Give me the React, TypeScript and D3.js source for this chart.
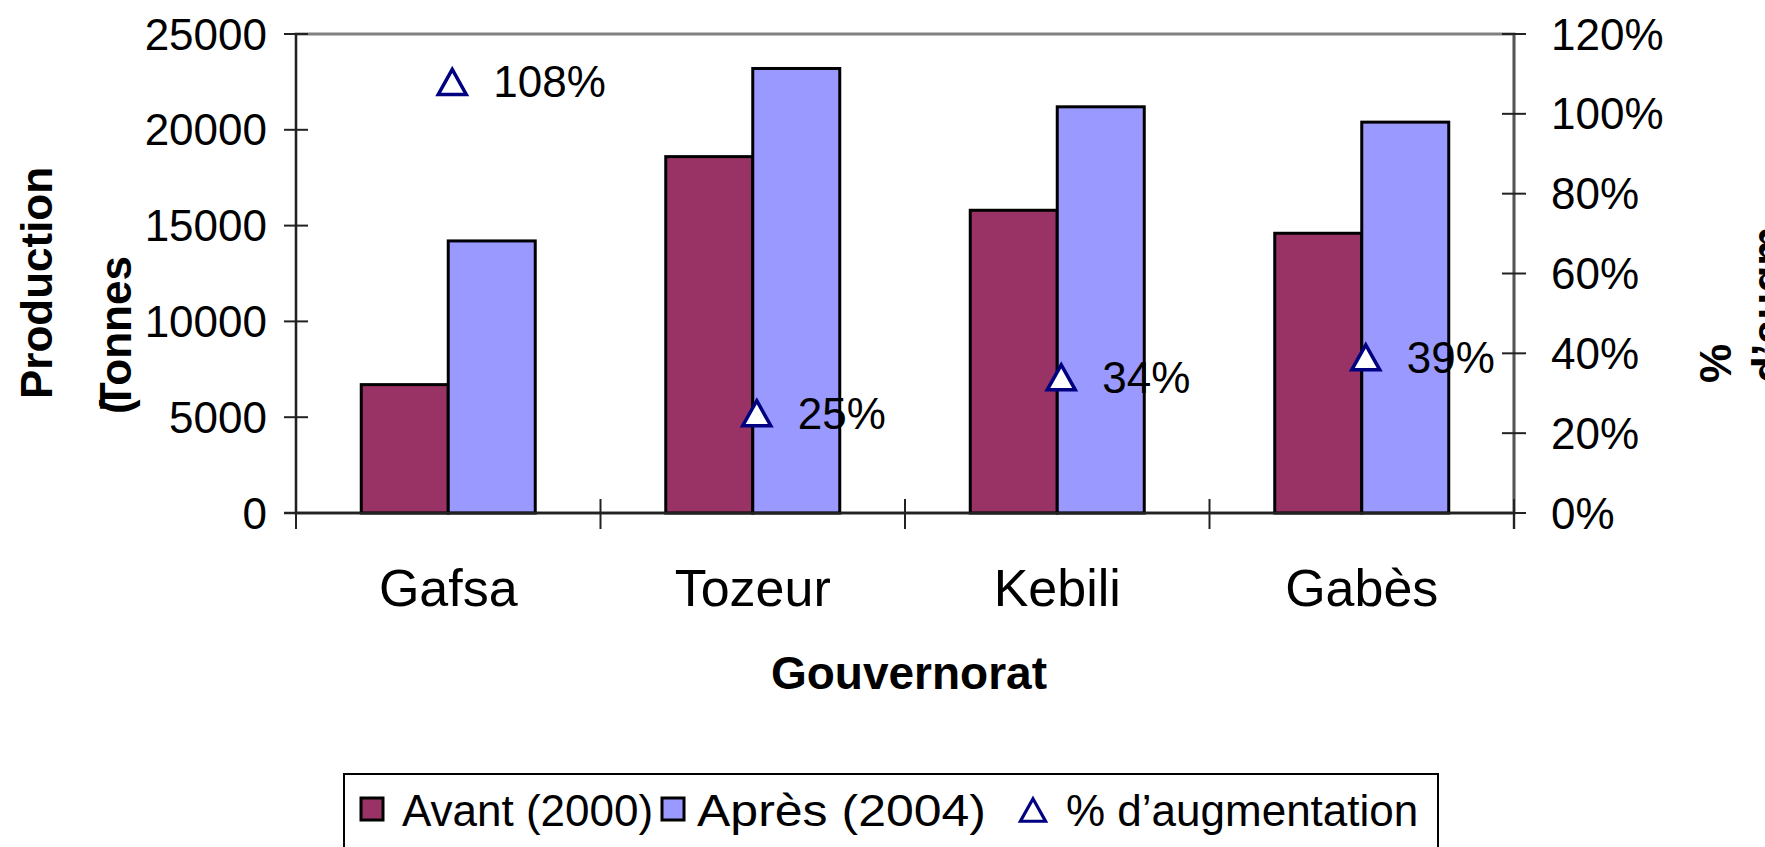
import React from "react";
import * as d3 from "d3";

const categories = ["Gafsa", "Tozeur", "Kebili", "Gabès"];
const avant = [6700, 18600, 15800, 14600];
const apres = [14200, 23200, 21200, 20400];
const pctIncrease = [1.08, 0.25, 0.34, 0.39];
const leftTicks = [0, 5000, 10000, 15000, 20000, 25000];
const rightTicks = [0, 0.2, 0.4, 0.6, 0.8, 1.0, 1.2];
const seriesNames = ["Avant (2000)", "Après (2004)", "% d’augmentation"];
const rightTitleLines = ["%", "d’augm", "entation"];

const W = 1765;
const H = 847;
const L = 296, R = 1514, T = 34, B = 513;
const FONT = "'Liberation Sans', Arial, Helvetica, sans-serif";
const RED = "#993366";
const BLUE = "#9999FF";
const NAVY = "#000080";

const tri = "M0,-12.5 L14,12.5 L-14,12.5 Z";

export default function App() {
  const x = d3.scaleBand<string>().domain(categories).range([L, R]).paddingInner(0).paddingOuter(0);
  const y = d3.scaleLinear().domain([0, 25000]).range([B, T]);
  const y2 = d3.scaleLinear().domain([0, 1.2]).range([B, T]);
  const bw = x.bandwidth() / 3.5;
  const fmtPct = d3.format(".0%");

  return (
    <svg width={W} height={H} style={{ position: "absolute", left: 0, top: 0, background: "#fff" }} fontFamily={FONT}>
      <rect x={0} y={0} width={W} height={H} fill="#fff" />
      {/* plot border */}
      <rect x={L} y={T} width={R - L} height={B - T} fill="none" stroke="#808080" strokeWidth={3} />
      {/* bars */}
      {categories.map((c, i) => {
        const cx = (x(c) as number) + x.bandwidth() / 2;
        return (
          <g key={c}>
            <rect x={cx - bw} y={y(avant[i])} width={bw} height={B - y(avant[i])} fill={RED} stroke="#000" strokeWidth={3} />
            <rect x={cx} y={y(apres[i])} width={bw} height={B - y(apres[i])} fill={BLUE} stroke="#000" strokeWidth={3} />
          </g>
        );
      })}
      {/* left axis */}
      <line x1={L} x2={L} y1={T} y2={B + 16} stroke="#222" strokeWidth={2} />
      {leftTicks.map((t) => (
        <g key={t}>
          <line x1={L - 12} x2={L + 12} y1={y(t)} y2={y(t)} stroke="#222" strokeWidth={2} />
          <text x={267} y={y(t)} textAnchor="end" dominantBaseline="central" fontSize={44}>{t}</text>
        </g>
      ))}
      {/* right axis */}
      <line x1={R} x2={R} y1={T} y2={B + 16} stroke="#555" strokeWidth={2.5} />
      {rightTicks.map((t) => (
        <g key={t}>
          <line x1={R - 12} x2={R + 12} y1={y2(t)} y2={y2(t)} stroke="#222" strokeWidth={2} />
          <text x={1551} y={y2(t)} textAnchor="start" dominantBaseline="central" fontSize={44}>{fmtPct(t)}</text>
        </g>
      ))}
      {/* bottom axis */}
      <line x1={L - 12} x2={R} y1={B} y2={B} stroke="#222" strokeWidth={2.5} />
      {categories.map((c) => (
        <line key={"t" + c} x1={(x(c) as number) + x.bandwidth()} x2={(x(c) as number) + x.bandwidth()} y1={B - 14} y2={B + 16} stroke="#222" strokeWidth={2} />
      ))}
      {categories.map((c) => (
        <text key={"l" + c} x={(x(c) as number) + x.bandwidth() / 2} y={588} textAnchor="middle" dominantBaseline="central" fontSize={52}>{c}</text>
      ))}
      {/* percentage markers */}
      {categories.map((c, i) => {
        const cx = (x(c) as number) + x.bandwidth() / 2 + 4;
        const cy = y2(pctIncrease[i]);
        return (
          <g key={"p" + c}>
            <path d={tri} transform={`translate(${cx},${cy})`} fill="#fff" stroke={NAVY} strokeWidth={3.5} strokeLinejoin="miter" />
            <text x={cx + 41} y={cy} dominantBaseline="central" fontSize={44}>{fmtPct(pctIncrease[i])}</text>
          </g>
        );
      })}
      {/* axis titles */}
      <text x={909} y={673} textAnchor="middle" dominantBaseline="central" fontSize={46} fontWeight="bold">Gouvernorat</text>
      <g transform="translate(52,283) rotate(-90)">
        <text x={0} y={0} textAnchor="middle" fontSize={44} fontWeight="bold">Production</text>
        <text x={-52} y={79} textAnchor="middle" fontSize={44} fontWeight="bold">
          <tspan>(</tspan><tspan dx={-10}>Tonnes</tspan>
        </text>
      </g>
      <g transform="translate(1731,383) rotate(-90)">
        {rightTitleLines.map((s, i) => (
          <text key={s} x={0} y={i * 52} textAnchor="start" fontSize={44} fontWeight="bold">{s}</text>
        ))}
      </g>
      {/* legend */}
      <rect x={344} y={774} width={1094} height={100} fill="#fff" stroke="#000" strokeWidth={2} />
      <rect x={361} y={798} width={22} height={22} fill={RED} stroke="#000" strokeWidth={3} />
      <text x={402} y={810} dominantBaseline="central" fontSize={44}>{seriesNames[0]}</text>
      <rect x={662} y={798} width={22} height={22} fill={BLUE} stroke="#000" strokeWidth={3} />
      <text x={697} y={810} dominantBaseline="central" fontSize={44} textLength={289} lengthAdjust="spacingAndGlyphs">{seriesNames[1]}</text>
      <path d={tri} transform="translate(1033,810) scale(0.9)" fill="#fff" stroke={NAVY} strokeWidth={3.5} />
      <text x={1066} y={810} dominantBaseline="central" fontSize={44}>{seriesNames[2]}</text>
    </svg>
  );
}
